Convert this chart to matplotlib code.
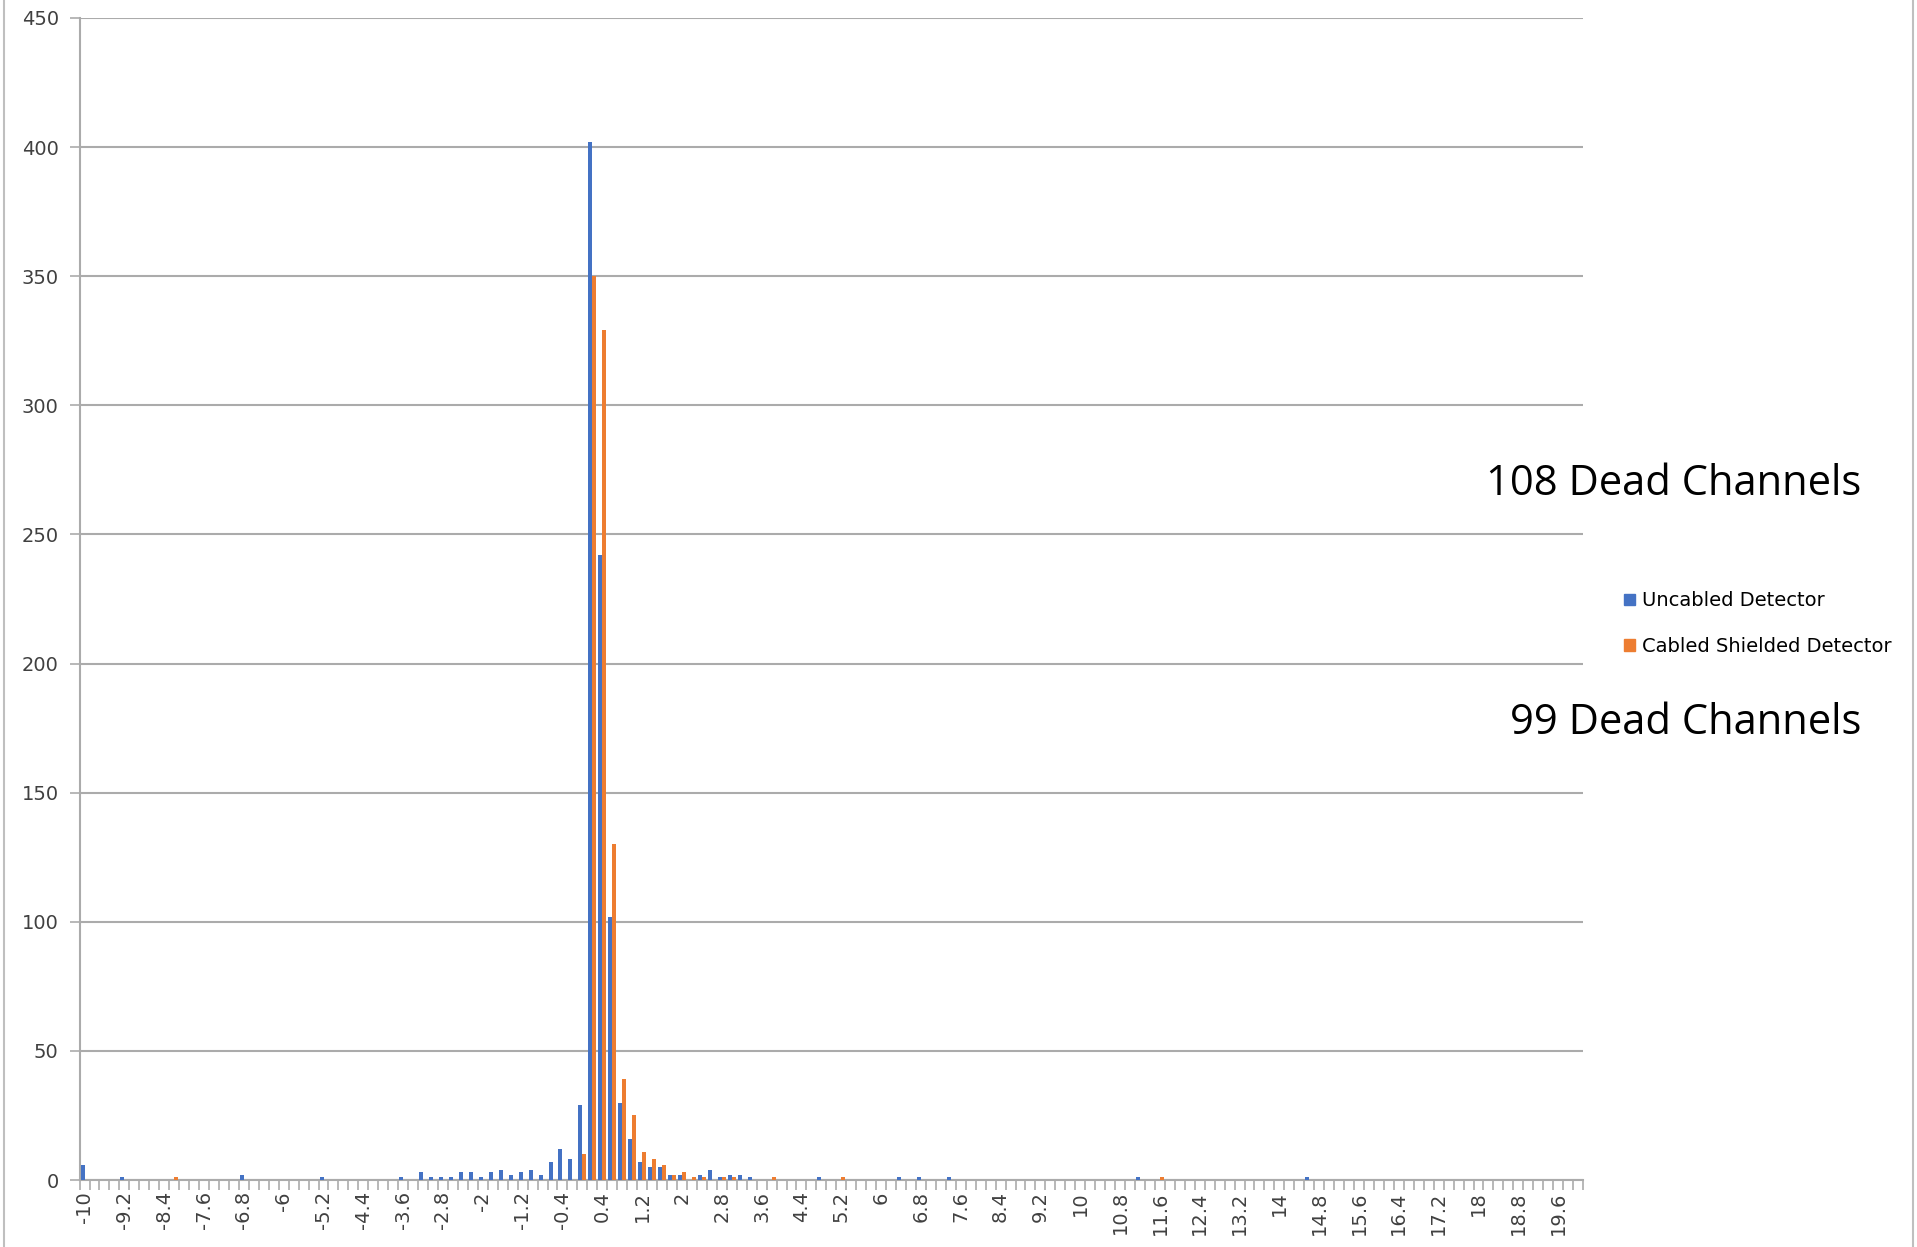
import matplotlib.pyplot as plt
import numpy as np
from matplotlib.lines import Line2D
from matplotlib.patches import Patch

# histogram bins: -10 .. 20 in steps of 0.2
BIN_START = -10.0
BIN_STEP = 0.2
N_BINS = 151

# non-empty bins (bin value, count)
uncabled_bins = [-10.0, -9.2, -6.8, -5.2, -3.6, -3.2, -3.0, -2.8, -2.6, -2.4,
                 -2.2, -2.0, -1.8, -1.6, -1.4, -1.2, -1.0, -0.8, -0.6, -0.4,
                 -0.2, 0.0, 0.2, 0.4, 0.6, 0.8, 1.0, 1.2, 1.4, 1.6,
                 1.8, 2.0, 2.4, 2.6, 2.8, 3.0, 3.2, 3.4, 4.8, 6.4,
                 6.8, 7.4, 11.2, 14.6]
uncabled_counts = [6, 1, 2, 1, 1, 3, 1, 1, 1, 3,
                   3, 1, 3, 4, 2, 3, 4, 2, 7, 12,
                   8, 29, 402, 242, 102, 30, 16, 7, 5, 5,
                   2, 2, 2, 4, 1, 2, 2, 1, 1, 1,
                   1, 1, 1, 1]

cabled_bins = [-8.2, 0.0, 0.2, 0.4, 0.6, 0.8, 1.0, 1.2, 1.4, 1.6,
               1.8, 2.0, 2.2, 2.4, 2.8, 3.0, 3.8, 5.2, 11.6]
cabled_counts = [1, 10, 350, 329, 130, 39, 25, 11, 8, 6,
                 2, 3, 1, 1, 1, 1, 1, 1, 1]

series_names = ["Uncabled Detector", "Cabled Shielded Detector"]
annotations = ["108 Dead Channels", "99 Dead Channels"]

BLUE = "#4472C4"
ORANGE = "#ED7D31"
GRID = "#ABABAB"


def to_full(bins, counts):
    full = np.zeros(N_BINS)
    for b, c in zip(bins, counts):
        idx = int(round((b - BIN_START) / BIN_STEP))
        full[idx] = c
    return full


categories = np.round(BIN_START + BIN_STEP * np.arange(N_BINS), 1)
uncabled = to_full(uncabled_bins, uncabled_counts)
cabled = to_full(cabled_bins, cabled_counts)

fig = plt.figure(figsize=(19.17, 12.47), dpi=100)
ax = fig.add_axes([0.0415, 0.0537, 0.7843, 0.9319])

x = np.arange(N_BINS)
width = 0.4
ax.bar(x - width / 2, uncabled, width, color=BLUE, linewidth=0, zorder=3)
ax.bar(x + width / 2, cabled, width, color=ORANGE, linewidth=0, zorder=3)

ax.set_xlim(-0.5, N_BINS - 0.5)
ax.set_ylim(0, 450)
ax.set_yticks(np.arange(0, 451, 50))
ax.yaxis.grid(True, color=GRID, linewidth=1.5, zorder=0)
ax.set_axisbelow(True)

label_idx = x[::4]
ax.set_xticks(label_idx)
ax.set_xticklabels([f"{v:g}" for v in categories[::4]], rotation=90,
                   fontsize=14, color="#404040")
ax.set_xticks(np.arange(N_BINS + 1) - 0.5, minor=True)
ax.tick_params(axis="x", which="major", length=0, pad=8)
ax.tick_params(axis="x", which="minor", length=7, width=1.2, color=GRID)
ax.tick_params(axis="y", length=7, width=1.2, color=GRID, labelsize=14,
               labelcolor="#404040", pad=8)

for side in ["top", "right"]:
    ax.spines[side].set_visible(False)
for side in ["left", "bottom"]:
    ax.spines[side].set_color(GRID)
    ax.spines[side].set_linewidth(1.5)

handles = [Patch(color=BLUE), Patch(color=ORANGE)]
fig.legend(handles, series_names, loc="center left",
           bbox_to_anchor=(0.842, 0.500), frameon=False, fontsize=14,
           handlelength=0.55, handleheight=0.55, handletextpad=0.4,
           labelspacing=1.35, borderpad=0)

fig.text(0.971, 0.612, annotations[0], ha="right", va="center",
         fontsize=30, family="Open Sans")
fig.text(0.971, 0.420, annotations[1], ha="right", va="center",
         fontsize=30, family="Open Sans")

# sheet border lines
fig.add_artist(Line2D([0.002, 0.002], [0, 1], color="#BFBFBF", linewidth=1.5,
                      transform=fig.transFigure))
fig.add_artist(Line2D([0.998, 0.998], [0, 1], color="#BFBFBF", linewidth=1.5,
                      transform=fig.transFigure))

fig.savefig("out.png", dpi=100)
